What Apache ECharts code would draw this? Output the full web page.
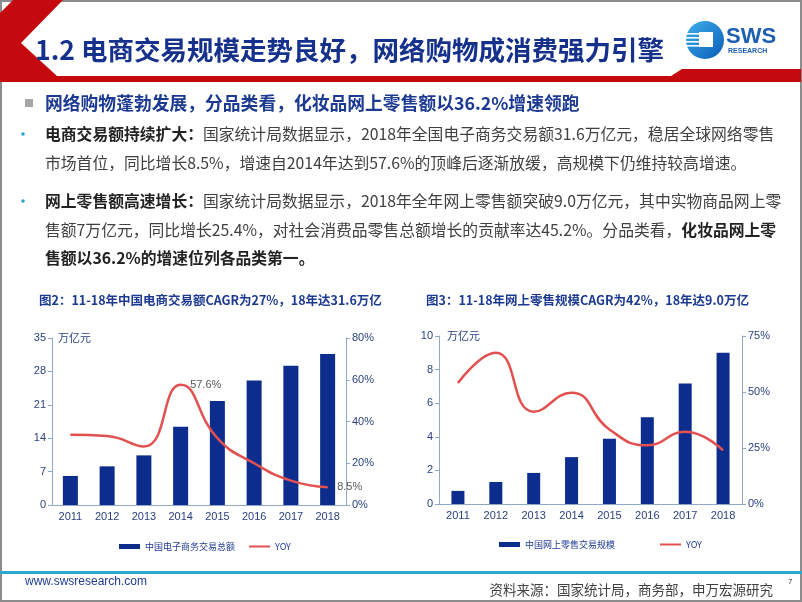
<!DOCTYPE html>
<html><head><meta charset="utf-8">
<script src="https://cdn.jsdelivr.net/npm/echarts@6/dist/echarts.min.js"></script>
<style>html,body{margin:0;padding:0;background:#fff}#c{width:802px;height:602px}</style>
</head><body><div id="c"></div>
<script>
// ---- data ----
const years = ['2011','2012','2013','2014','2015','2016','2017','2018'];
const ecomVolume = [6.09, 8.1, 10.4, 16.39, 21.8, 26.1, 29.16, 31.63];   // 万亿元
const ecomYoy = [33.6, 33.0, 28.0, 57.6, 32.0, 20.0, 11.7, 8.5];          // %
const retailVolume = [0.78, 1.31, 1.85, 2.79, 3.88, 5.16, 7.18, 9.01];   // 万亿元
const retailYoy = [54.0, 67.5, 41.2, 49.7, 33.3, 26.2, 32.2, 23.9];      // %
const ecomLeftAxis = {min: 0, max: 35, interval: 7};
const ecomRightAxis = {min: 0, max: 80, interval: 20};
const retailLeftAxis = {min: 0, max: 10, interval: 2};
const retailRightAxis = {min: 0, max: 75, interval: 25};
const labelledPoints = {3: '57.6%', 7: '8.5%'};

const CJK = '"Noto Sans CJK SC", sans-serif';
const LAT = '"Liberation Sans", "Noto Sans CJK SC", sans-serif';
const axisColor = '#8fa8c8';
const labelColor = '#2a3f7e';
const barColor = '#0c2c8e';
const lineColor = '#e2504f';
const titleBlue = '#1c3a92';

function txt(x, y, text, font, fill, align, rich) {
  return {type: 'text', x: x, y: y, silent: true,
    style: {text: text, font: font, fill: fill, align: align || 'left', verticalAlign: 'middle',
            textAlign: align || 'left', textVerticalAlign: 'middle', rich: rich}};
}
const boldRich = {b: {font: 'bold 15.8px ' + CJK, fill: '#222222'}};

const graphics = [
  {type: 'rect', shape: {x: 1, y: 1, width: 800, height: 600}, style: {fill: 'none', stroke: '#8c8c8c', lineWidth: 2}, silent: true},
  {type: 'polygon', shape: {points: [[13,0],[63,0],[21,43],[57,76],[671,76],[682,69],[801,69],[801,82],[0,82],[0,13]]},
   style: {fill: '#c40a0f'}, silent: true},
  txt(35, 50, '1.2 电商交易规模走势良好，网络购物成消费强力引擎', 'bold 26.5px ' + CJK, '#16318c'),
  // logo
  {type: 'circle', shape: {cx: 705, cy: 40, r: 19}, style: {fill: new echarts.graphic.LinearGradient(0, 0, 1, 1, [{offset: 0, color: '#3fb0ea'}, {offset: 1, color: '#0a5cb8'}])}, silent: true},
  {type: 'rect', shape: {x: 699, y: 32, width: 14, height: 15}, style: {fill: '#ffffff'}, silent: true},
  {type: 'rect', shape: {x: 686, y: 33, width: 13, height: 1.6}, style: {fill: '#ffffff'}, silent: true},
  {type: 'rect', shape: {x: 686, y: 37, width: 13, height: 1.6}, style: {fill: '#ffffff'}, silent: true},
  {type: 'rect', shape: {x: 686, y: 41, width: 13, height: 1.6}, style: {fill: '#ffffff'}, silent: true},
  {type: 'rect', shape: {x: 686, y: 45, width: 13, height: 1.6}, style: {fill: '#ffffff'}, silent: true},
  txt(726, 37, 'SWS', 'bold 22px ' + LAT, '#1d5fb3'),
  txt(728, 51, 'RESEARCH', 'bold 7px ' + LAT, '#1d5fb3'),
  // headline
  {type: 'rect', shape: {x: 25, y: 99, width: 8, height: 8}, style: {fill: '#a6a6a6'}, silent: true},
  txt(45, 103, '网络购物蓬勃发展，分品类看，化妆品网上零售额以36.2%增速领跑', 'bold 17.8px ' + CJK, titleBlue),
  {type: 'circle', shape: {cx: 23, cy: 134, r: 1.8}, style: {fill: '#2aa3d0'}, silent: true},
  {type: 'circle', shape: {cx: 23, cy: 201, r: 1.8}, style: {fill: '#2aa3d0'}, silent: true},
  txt(45, 134, '{b|电商交易额持续扩大：}国家统计局数据显示，2018年全国电子商务交易额31.6万亿元，稳居全球网络零售', '15.8px ' + CJK, '#404040', 'left', boldRich),
  txt(45, 163, '市场首位，同比增长8.5%，增速自2014年达到57.6%的顶峰后逐渐放缓，高规模下仍维持较高增速。', '15.8px ' + CJK, '#404040'),
  txt(45, 201, '{b|网上零售额高速增长：}国家统计局数据显示，2018年全年网上零售额突破9.0万亿元，其中实物商品网上零', '15.8px ' + CJK, '#404040', 'left', boldRich),
  txt(45, 230, '售额7万亿元，同比增长25.4%，对社会消费品零售总额增长的贡献率达45.2%。分品类看，{b|化妆品网上零}', '15.8px ' + CJK, '#404040', 'left', boldRich),
  txt(45, 258, '{b|售额以36.2%的增速位列各品类第一。}', '15.8px ' + CJK, '#404040', 'left', boldRich),
  // chart titles
  txt(39, 300, '图2：11-18年中国电商交易额CAGR为27%，18年达31.6万亿', 'bold 12.5px ' + CJK, titleBlue),
  txt(426, 300, '图3：11-18年网上零售规模CAGR为42%，18年达9.0万亿', 'bold 12.5px ' + CJK, titleBlue),
  // footer
  {type: 'rect', shape: {x: 0, y: 571, width: 802, height: 3}, style: {fill: '#2ea7cf'}, silent: true},
  txt(25, 582, 'www.swsresearch.com', '12px ' + LAT, '#1f3a93'),
  txt(773, 590, '资料来源：国家统计局，商务部，申万宏源研究', '13.5px ' + CJK, '#404040', 'right'),
  txt(788, 582, '7', '8px ' + LAT, '#404040')
];

function yAx(grid, cfg, pos, fmt, name, namePad) {
  return Object.assign({
    type: 'value', gridIndex: grid, position: pos,
    axisLine: {show: true, lineStyle: {color: axisColor}},
    axisTick: {show: true, length: 4, lineStyle: {color: axisColor}},
    splitLine: {show: false},
    axisLabel: {color: labelColor, fontSize: 11, fontFamily: LAT, margin: 6, formatter: fmt},
    name: name, nameLocation: 'end', nameGap: 0,
    nameTextStyle: {color: labelColor, fontSize: 11, fontFamily: CJK, align: 'left', verticalAlign: 'middle', padding: [0, 0, 0, namePad || 0]}
  }, cfg);
}
function xAx(grid) {
  return {type: 'category', gridIndex: grid, data: years,
    axisLine: {lineStyle: {color: axisColor}}, axisTick: {show: false},
    axisLabel: {color: labelColor, fontSize: 11, fontFamily: LAT, margin: 6}};
}
function yoyData(values, labels) {
  return values.map((v, i) => labels && labels[i] ? {
    value: v, symbol: 'circle', symbolSize: 1,
    label: {show: true, position: 'right', distance: 9, formatter: labels[i], color: '#595959', fontSize: 11, fontFamily: LAT}
  } : v);
}
const lineLegendItem = {name: 'YOY', itemStyle: {opacity: 0}};

const chart = echarts.init(document.getElementById('c'), null, {renderer: 'canvas'});
chart.setOption({
  animation: false,
  backgroundColor: '#ffffff',
  graphic: graphics,
  grid: [
    {left: 52, top: 338, width: 294, height: 167},
    {left: 439, top: 336, width: 303, height: 168}
  ],
  xAxis: [xAx(0), xAx(1)],
  yAxis: [
    yAx(0, ecomLeftAxis, 'left', '{value}', '万亿元', 6),
    yAx(0, ecomRightAxis, 'right', '{value}%'),
    yAx(1, retailLeftAxis, 'left', '{value}', '万亿元', 8),
    yAx(1, retailRightAxis, 'right', '{value}%')
  ],
  legend: [
    {left: 119, top: 542, padding: 0, itemWidth: 21, itemHeight: 5, itemGap: 13,
     textStyle: {fontSize: 9, color: '#1f3a93', fontFamily: CJK},
     data: [{name: '中国电子商务交易总额', icon: 'rect'}, lineLegendItem]},
    {left: 499, top: 540, padding: 0, itemWidth: 21, itemHeight: 5, itemGap: 44,
     textStyle: {fontSize: 9, color: '#1f3a93', fontFamily: CJK},
     data: [{name: '中国网上零售交易规模', icon: 'rect'}, lineLegendItem]}
  ],
  series: [
    {name: '中国电子商务交易总额', type: 'bar', xAxisIndex: 0, yAxisIndex: 0, barWidth: 15,
     itemStyle: {color: barColor}, data: ecomVolume},
    {name: 'YOY', type: 'line', xAxisIndex: 0, yAxisIndex: 1, smooth: true, symbol: 'none',
     lineStyle: {color: lineColor, width: 2.5}, itemStyle: {color: lineColor},
     data: yoyData(ecomYoy, labelledPoints)},
    {name: '中国网上零售交易规模', type: 'bar', xAxisIndex: 1, yAxisIndex: 2, barWidth: 13,
     itemStyle: {color: barColor}, data: retailVolume},
    {name: 'YOY', type: 'line', xAxisIndex: 1, yAxisIndex: 3, smooth: true, symbol: 'none',
     lineStyle: {color: lineColor, width: 2.5}, itemStyle: {color: lineColor}, data: yoyData(retailYoy)}
  ]
});
</script></body></html>
